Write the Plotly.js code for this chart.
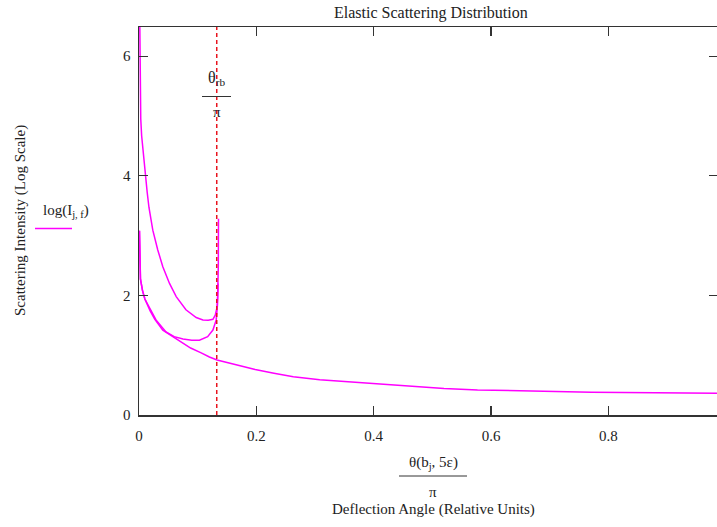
<!DOCTYPE html>
<html>
<head>
<meta charset="utf-8">
<script src="https://cdn.plot.ly/plotly-3.0.1.min.js"></script>
<style>
html,body{margin:0;padding:0;overflow:hidden;background:#fff;}
#chart{width:720px;height:527px;}
</style>
</head>
<body>
<div id="chart"></div>
<script>
// ---- data ----
// Branch A: upper branch, from near-forward angles to the rainbow spike
const xA = [0.0012, 0.0018, 0.0030, 0.0045, 0.0086, 0.011, 0.014, 0.017, 0.020, 0.0235, 0.032, 0.0406, 0.052, 0.0634, 0.080, 0.0975, 0.109, 0.118, 0.126, 0.130, 0.133, 0.134, 0.1352, 0.1355];
const yA = [6.70,   5.33,   4.95,   4.67,   4.22,  4.00,  3.72,  3.47,  3.27,  3.09,   2.76,  2.48,   2.20,  1.98,   1.76,  1.63,   1.59,  1.585, 1.60,  1.67,  1.80,  1.98,  2.50,   3.28];
// Branch B: middle branch, from x=0 down to its minimum and up to the rainbow
const xB = [0.0008, 0.0015, 0.0025, 0.006, 0.010, 0.018, 0.029, 0.046, 0.060, 0.075, 0.090, 0.103, 0.117, 0.126, 0.1316, 0.1338, 0.1348];
const yB = [3.08,   2.80,   2.27,   2.08,  1.94,  1.79,  1.59,  1.39,  1.31,  1.27,  1.25,  1.25,  1.31,  1.42,  1.59,   1.85,   2.20];
// Branch C: lower branch, from x=0 out to large deflection angles
const xC = [0.0008, 0.0015, 0.0025, 0.006, 0.010, 0.019, 0.027, 0.0406, 0.055, 0.069, 0.077, 0.088, 0.106, 0.120, 0.133, 0.150, 0.163, 0.198, 0.230, 0.263, 0.308, 0.350, 0.389, 0.430, 0.468, 0.520, 0.577, 0.657, 0.771, 0.880, 1.000];
const yC = [3.08,   2.80,   2.27,   2.08,  1.94,  1.74,  1.60,  1.42,   1.33,  1.25,  1.19,  1.12,  1.04,  0.97,  0.92,  0.88,  0.84,  0.76,  0.70,  0.64,  0.59,  0.56,  0.53,  0.50,  0.47,  0.445, 0.42,  0.40,  0.38,  0.37,  0.365];
// Rainbow angle marker (θ_rb / π)
const thetaRb = 0.1325;

// tick labels
const xTickVals = [0, 0.2, 0.4, 0.6, 0.8];
const xTickText = ["0", "0.2", "0.4", "0.6", "0.8"];
const yTickVals = [0, 2, 4, 6];
const yTickText = ["0", "2", "4", "6"];

// text
const chartTitle = "Elastic Scattering Distribution";
const xTitle = "Deflection Angle (Relative Units)";
const yTitle = "Scattering Intensity (Log Scale)";
const legendText = "log(I<sub>j, f</sub>)";
const xNumer = "θ(b<sub>j</sub>, 5ε)";
const rbNumer = "θ<sub>rb</sub>";
const denom = "π";

// ---- layout helpers (pixel -> paper) ----
const L = 139, T = 27, W = 579, H = 388;
const px = v => (v - L) / W;
const py = v => (T + H - v) / H;

const serif = "Liberation Serif, Times New Roman, serif";
const ink = "#222";
const curveColor = "#ff00ff";

const lineStyle = {color: curveColor, width: 1.5};
const traces = [
  {x: xA, y: yA, type: "scatter", mode: "lines", line: lineStyle, showlegend: false, hoverinfo: "skip"},
  {x: xB, y: yB, type: "scatter", mode: "lines", line: lineStyle, showlegend: false, hoverinfo: "skip"},
  {x: xC, y: yC, type: "scatter", mode: "lines", line: lineStyle, showlegend: false, hoverinfo: "skip"}
];

const axisCommon = {
  showgrid: false, zeroline: false, showline: true, linecolor: "#333", linewidth: 1.5,
  mirror: "ticks", ticks: "inside", ticklen: 9, tickwidth: 1.3, tickcolor: "#333",
  tickfont: {family: serif, size: 15, color: ink}, fixedrange: true
};

const ann = (text, x, y, opts) => Object.assign({
  text: text, x: x, y: y, xref: "paper", yref: "paper", showarrow: false,
  xanchor: "center", yanchor: "middle", font: {family: serif, size: 15, color: ink}
}, opts || {});

const layout = {
  width: 720, height: 527,
  margin: {l: L, r: 720 - L - W, t: T, b: 527 - T - H, pad: 0},
  paper_bgcolor: "#fff", plot_bgcolor: "#fff",
  xaxis: Object.assign({}, axisCommon, {range: [0, W / 586.7], tickvals: xTickVals, ticktext: xTickText, ticklabelstandoff: 6}),
  yaxis: Object.assign({}, axisCommon, {range: [0, H / 59.8], tickvals: yTickVals, ticktext: yTickText, ticklabelstandoff: 4}),
  shapes: [
    {type: "line", xref: "x", yref: "paper", x0: thetaRb, x1: thetaRb, y0: 0, y1: 1,
     line: {color: "#e8141e", width: 1.5, dash: "4px,3px"}},
    {type: "line", xref: "paper", yref: "paper", x0: px(35), x1: px(72), y0: py(228.5), y1: py(228.5),
     line: {color: curveColor, width: 1.5}},
    {type: "line", xref: "paper", yref: "paper", x0: px(399), x1: px(467), y0: py(476), y1: py(476),
     line: {color: "#333", width: 1}},
    {type: "line", xref: "paper", yref: "paper", x0: px(202), x1: px(231), y0: py(96.5), y1: py(96.5),
     line: {color: "#333", width: 1}}
  ],
  annotations: [
    ann(chartTitle, px(431), py(13), {font: {family: serif, size: 16, color: ink}}),
    ann(yTitle, px(20), py(221), {textangle: -90}),
    ann(legendText, px(66), py(211)),
    ann(xNumer, px(433), py(463)),
    ann(denom, px(433), py(492)),
    ann(xTitle, px(433), py(509)),
    ann(rbNumer, px(216), py(79), {font: {family: serif, size: 16, color: ink}}),
    ann(denom, px(216.5), py(112))
  ]
};

Plotly.newPlot("chart", traces, layout, {staticPlot: true, displayModeBar: false});
</script>
</body>
</html>
